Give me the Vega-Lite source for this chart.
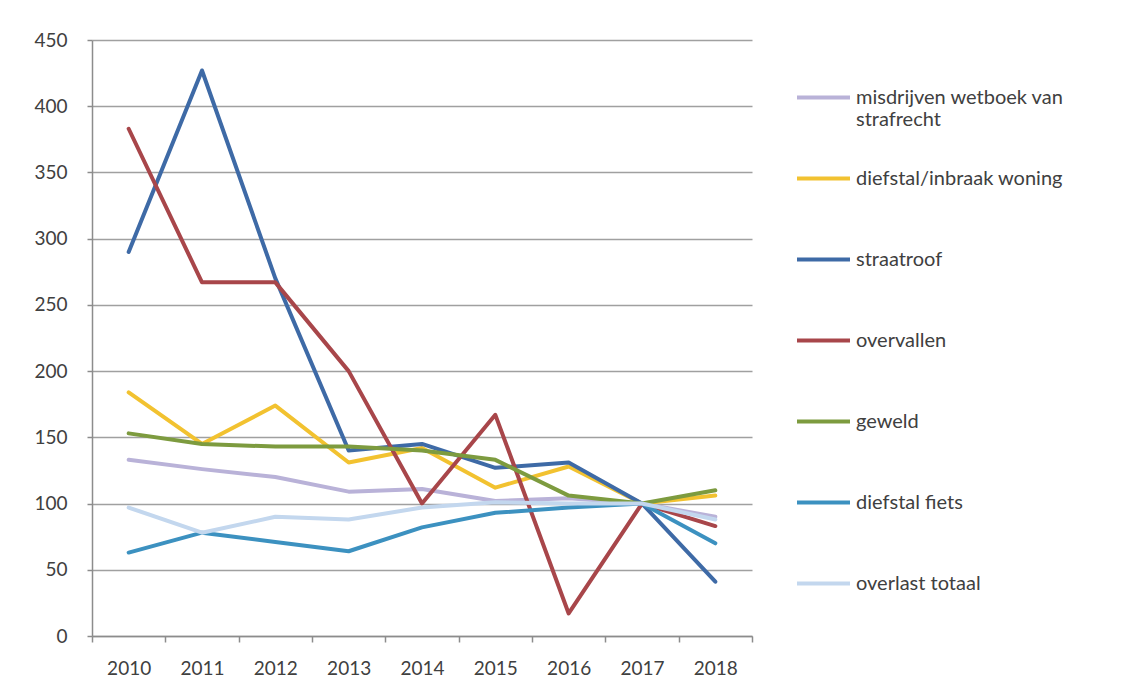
{
  "$schema": "https://vega.github.io/schema/vega-lite/v6.json",
  "width": 660,
  "height": 596,
  "autosize": "none",
  "padding": {"left": 92, "top": 40, "right": 382, "bottom": 60},
  "background": "white",
  "config": {
    "font": "Lato",
    "view": {"stroke": null},
    "axis": {"labelFont": "Lato", "labelColor": "#404040", "labelFontSize": 19}
  },
  "data": {"values": [
    {"year": "2010", "series": "misdrijven wetboek van strafrecht", "value": 133},
    {"year": "2011", "series": "misdrijven wetboek van strafrecht", "value": 126},
    {"year": "2012", "series": "misdrijven wetboek van strafrecht", "value": 120},
    {"year": "2013", "series": "misdrijven wetboek van strafrecht", "value": 109},
    {"year": "2014", "series": "misdrijven wetboek van strafrecht", "value": 111},
    {"year": "2015", "series": "misdrijven wetboek van strafrecht", "value": 102},
    {"year": "2016", "series": "misdrijven wetboek van strafrecht", "value": 104},
    {"year": "2017", "series": "misdrijven wetboek van strafrecht", "value": 100},
    {"year": "2018", "series": "misdrijven wetboek van strafrecht", "value": 90},
    {"year": "2010", "series": "diefstal/inbraak woning", "value": 184},
    {"year": "2011", "series": "diefstal/inbraak woning", "value": 145},
    {"year": "2012", "series": "diefstal/inbraak woning", "value": 174},
    {"year": "2013", "series": "diefstal/inbraak woning", "value": 131},
    {"year": "2014", "series": "diefstal/inbraak woning", "value": 142},
    {"year": "2015", "series": "diefstal/inbraak woning", "value": 112},
    {"year": "2016", "series": "diefstal/inbraak woning", "value": 128},
    {"year": "2017", "series": "diefstal/inbraak woning", "value": 100},
    {"year": "2018", "series": "diefstal/inbraak woning", "value": 106},
    {"year": "2010", "series": "straatroof", "value": 290},
    {"year": "2011", "series": "straatroof", "value": 427},
    {"year": "2012", "series": "straatroof", "value": 270},
    {"year": "2013", "series": "straatroof", "value": 140},
    {"year": "2014", "series": "straatroof", "value": 145},
    {"year": "2015", "series": "straatroof", "value": 127},
    {"year": "2016", "series": "straatroof", "value": 131},
    {"year": "2017", "series": "straatroof", "value": 100},
    {"year": "2018", "series": "straatroof", "value": 41},
    {"year": "2010", "series": "overvallen", "value": 383},
    {"year": "2011", "series": "overvallen", "value": 267},
    {"year": "2012", "series": "overvallen", "value": 267},
    {"year": "2013", "series": "overvallen", "value": 200},
    {"year": "2014", "series": "overvallen", "value": 100},
    {"year": "2015", "series": "overvallen", "value": 167},
    {"year": "2016", "series": "overvallen", "value": 17},
    {"year": "2017", "series": "overvallen", "value": 100},
    {"year": "2018", "series": "overvallen", "value": 83},
    {"year": "2010", "series": "geweld", "value": 153},
    {"year": "2011", "series": "geweld", "value": 145},
    {"year": "2012", "series": "geweld", "value": 143},
    {"year": "2013", "series": "geweld", "value": 143},
    {"year": "2014", "series": "geweld", "value": 140},
    {"year": "2015", "series": "geweld", "value": 133},
    {"year": "2016", "series": "geweld", "value": 106},
    {"year": "2017", "series": "geweld", "value": 100},
    {"year": "2018", "series": "geweld", "value": 110},
    {"year": "2010", "series": "diefstal fiets", "value": 63},
    {"year": "2011", "series": "diefstal fiets", "value": 78},
    {"year": "2012", "series": "diefstal fiets", "value": 71},
    {"year": "2013", "series": "diefstal fiets", "value": 64},
    {"year": "2014", "series": "diefstal fiets", "value": 82},
    {"year": "2015", "series": "diefstal fiets", "value": 93},
    {"year": "2016", "series": "diefstal fiets", "value": 97},
    {"year": "2017", "series": "diefstal fiets", "value": 100},
    {"year": "2018", "series": "diefstal fiets", "value": 70},
    {"year": "2010", "series": "overlast totaal", "value": 97},
    {"year": "2011", "series": "overlast totaal", "value": 78},
    {"year": "2012", "series": "overlast totaal", "value": 90},
    {"year": "2013", "series": "overlast totaal", "value": 88},
    {"year": "2014", "series": "overlast totaal", "value": 97},
    {"year": "2015", "series": "overlast totaal", "value": 101},
    {"year": "2016", "series": "overlast totaal", "value": 100},
    {"year": "2017", "series": "overlast totaal", "value": 100},
    {"year": "2018", "series": "overlast totaal", "value": 88}
  ]},
  "mark": {"type": "line", "strokeWidth": 4, "strokeJoin": "round", "strokeCap": "round"},
  "encoding": {
    "x": {
      "field": "year", "type": "ordinal", "bandPosition": 0.5,
      "scale": {"type": "band", "paddingInner": 0, "paddingOuter": 0},
      "axis": {"title": null, "labelAngle": 0, "tickBand": "extent", "grid": false,
               "domainColor": "#8c8c8c", "domainWidth": 1.5, "tickColor": "#8c8c8c", "tickWidth": 1.5, "tickSize": 6, "labelPadding": 17}
    },
    "y": {
      "field": "value", "type": "quantitative",
      "scale": {"domain": [0, 450], "nice": false},
      "axis": {"title": null, "values": [0, 50, 100, 150, 200, 250, 300, 350, 400, 450],
               "gridColor": "#a0a0a0", "gridWidth": 1.5, "domainColor": "#8c8c8c", "domainWidth": 1.5,
               "tickColor": "#8c8c8c", "tickSize": 5, "tickWidth": 1.5, "labelPadding": 20}
    },
    "color": {
      "field": "series", "type": "nominal",
      "scale": {
        "domain": ["misdrijven wetboek van strafrecht", "diefstal/inbraak woning", "straatroof", "overvallen", "geweld", "diefstal fiets", "overlast totaal"],
        "range": ["#b9b2d8", "#f2c230", "#3e6aa6", "#a8464a", "#7d9b3f", "#3c91c0", "#c3d7ee"]
      },
      "legend": {
        "title": null, "orient": "none", "legendX": 703, "legendY": 29,
        "symbolType": "stroke", "symbolSize": 2809, "symbolStrokeWidth": 4,
        "labelFont": "Lato", "labelFontSize": 20, "labelColor": "#404040", "labelLimit": 400,
        "labelOffset": 4, "rowPadding": 20,
        "labelExpr": "datum.label == 'misdrijven wetboek van strafrecht' ? ['misdrijven wetboek van', 'strafrecht'] : [datum.label, '']"
      }
    }
  }
}
